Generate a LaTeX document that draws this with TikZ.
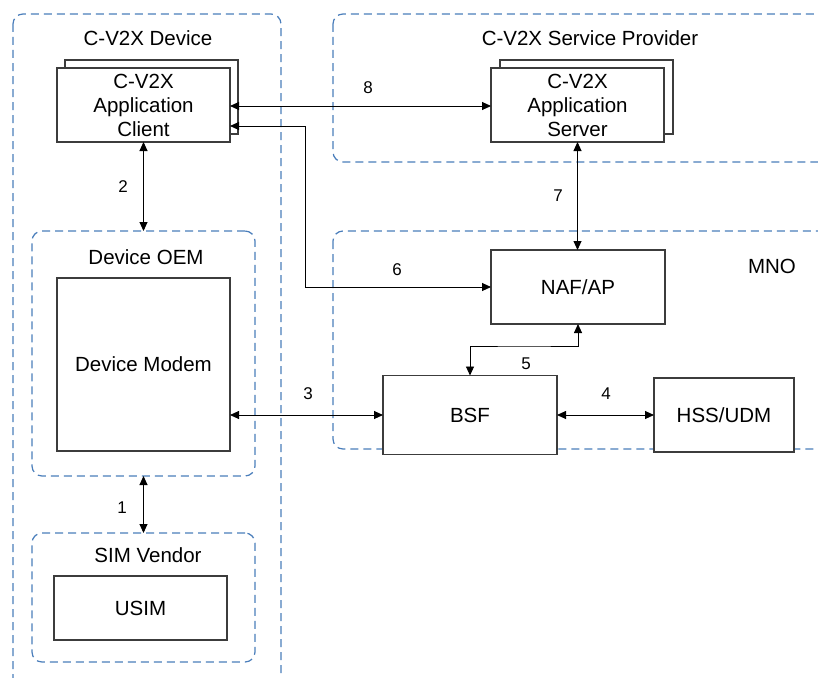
\documentclass[tikz,border=0pt]{standalone}
\usepackage{fontspec}
\setmainfont{Liberation Sans}
\usetikzlibrary{arrows.meta}
\definecolor{grpblue}{RGB}{74,126,187}
\definecolor{boxgray}{RGB}{60,60,60}
\tikzset{
  grp/.style={draw=grpblue, line width=1.2pt, dash pattern=on 8pt off 5pt, rounded corners=10pt, inner sep=0pt, outer sep=0pt},
  blk/.style={draw=boxgray, fill=white, line width=1.2pt, inner sep=0pt, outer sep=0pt, align=center, font=\fontsize{20.5}{24}\selectfont},
  lbl/.style={inner sep=0pt, font=\fontsize{20.5}{24}\selectfont},
  num/.style={inner sep=0pt, font=\fontsize{17}{20}\selectfont},
  conn/.style={line width=0.9pt, {Triangle[length=9pt,width=8pt]}-{Triangle[length=9pt,width=8pt]}},
}
\begin{document}
\begin{tikzpicture}[x=1pt,y=-1pt]
\clip (0,0) rectangle (818,677);
\fill[white] (0,0) rectangle (818,677);
% groups
\draw[grp] (13,14) rectangle (281,700);
\coordinate (devgrp) at (147,14);
\draw[grp] (333,14) rectangle (840,162);
\draw[grp] (333,231) rectangle (840,449);
\node[grp, minimum width=223pt, minimum height=245pt] (oem) at (143.5,353.5) {};
\node[grp, minimum width=223pt, minimum height=129pt] (sim) at (143.5,597.5) {};
% group labels
\node[lbl] (devlbl) at (148,38) {C-V2X Device};
\node[lbl] (splbl) at (590,38) {C-V2X Service Provider};
\node[lbl] (oemlbl) at (146,257) {Device OEM};
\node[lbl] (simlbl) at (148,555) {SIM Vendor};
\node[lbl] (mnolbl) at (772,266) {MNO};
% blocks
\node[blk, minimum width=173pt, minimum height=74pt] (clientback) at (151.5,97) {};
\node[blk, minimum width=173pt, minimum height=74pt] (client) at (143.5,105) {C-V2X\\Application\\Client};
\node[blk, minimum width=173pt, minimum height=74pt] (serverback) at (586.5,97) {};
\node[blk, minimum width=173pt, minimum height=74pt] (server) at (577.5,105) {C-V2X\\Application\\Server};
\node[blk, minimum width=173pt, minimum height=173pt] (modem) at (143.5,364.5) {Device Modem};
\node[blk, minimum width=173pt, minimum height=64pt] (usim) at (140.5,608) {USIM};
\node[blk, minimum width=174pt, minimum height=74pt] (naf) at (578,287) {NAF/AP};
\node[blk, minimum width=174pt, minimum height=79pt] (bsf) at (470,415) {BSF};
\node[blk, minimum width=140pt, minimum height=74pt] (hss) at (724,415) {HSS/UDM};
% connectors
\draw[conn] (client.south) -- (oem.north);
\draw[conn] (oem.south) -- (sim.north);
\draw[conn] (modem.east |- bsf.west) -- (bsf.west);
\draw[conn] (bsf.east) -- (hss.west);
\coordinate (m5) at (524,346);
\draw[conn] (naf.south) |- (m5) -| (bsf.north);
\coordinate (b6) at (305,287);
\draw[conn] ([yshift=-21pt]client.east) -| (b6) -- (naf.west);
\draw[conn] (server.south) -- (server.south |- naf.north);
\draw[conn] ([yshift=-1pt]client.east) -- (server.west |- 0,106);
% numbers
\node[num] (n1) at (122,508) {1};
\node[num] (n2) at (123,187) {2};
\node[num] (n3) at (308,394) {3};
\node[num] (n4) at (606,394) {4};
\node[num] (n5) at (526,364) {5};
\node[num] (n6) at (397,270) {6};
\node[num] (n7) at (558,196) {7};
\node[num] (n8) at (368,88) {8};
\end{tikzpicture}
\end{document}
